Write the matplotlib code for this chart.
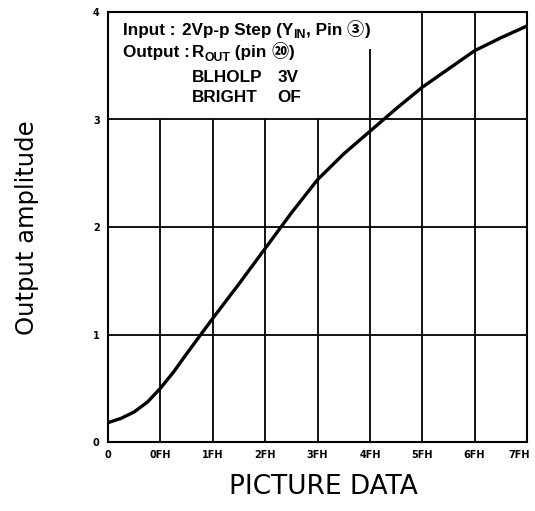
import matplotlib.pyplot as plt
from matplotlib.transforms import ScaledTranslation

plt.rcParams['font.family'] = ['DejaVu Sans', 'Noto Sans CJK JP']

# --- data ---
x_labels = ["0", "0FH", "1FH", "2FH", "3FH", "4FH", "5FH", "6FH", "7FH"]
x_ticks = [0, 1, 2, 3, 4, 5, 6, 7, 8]
y_ticks = [0, 1, 2, 3, 4]

curve_x = [0, 0.25, 0.5, 0.75, 1, 1.25, 1.5, 2, 2.5, 3, 3.5, 4, 4.5, 5,
           5.5, 6, 6.5, 7, 7.5, 8]
curve_y = [0.18, 0.22, 0.28, 0.37, 0.50, 0.65, 0.82, 1.15, 1.47, 1.80,
           2.13, 2.44, 2.68, 2.89, 3.10, 3.30, 3.47, 3.64, 3.76, 3.87]

# grid lines (vertical ones stop under the text block)
grid_x = [1, 2, 3, 4, 5, 6, 7]
grid_x_top = [3, 3, 3, 3, 3.66, 4, 4]
grid_y = [1, 2, 3]

# --- figure ---
fig = plt.figure(figsize=(5.35, 5.11), dpi=100)
ax = fig.add_axes([108 / 535, 69 / 511, 419 / 535, 430 / 511])

ax.set_xlim(0, 8)
ax.set_ylim(0, 4)

ax.vlines(grid_x, 0, grid_x_top, color='black', linewidth=1.3)
ax.hlines(grid_y, 0, 8, color='black', linewidth=1.3)
ax.plot(curve_x, curve_y, color='black', linewidth=2.4,
        solid_capstyle='round', solid_joinstyle='round')

for sp in ax.spines.values():
    sp.set_linewidth(1.5)

ax.set_xticks(x_ticks)
ax.set_xticklabels(x_labels, fontsize=7, fontweight='bold')
ax.set_yticks(y_ticks)
ax.set_yticklabels([str(v) for v in y_ticks], fontsize=7, fontweight='bold')
ax.tick_params(length=0, pad=6)

# last x label sits against the right edge, nudge it in a bit
last = ax.get_xticklabels()[-1]
last.set_transform(last.get_transform() + ScaledTranslation(-6 / 72, 0, fig.dpi_scale_trans))

BOX_FONT = ['Liberation Sans', 'Noto Sans CJK JP']


# --- text block, pieces chained left to right on one baseline ---
def put_line(x, y, pieces, size=12.3):
    prev = None
    for s, rel, dy in pieces:
        if prev is None:
            t = ax.annotate(s, xy=(x, y), xycoords='data', xytext=(0, dy),
                            textcoords='offset points', fontsize=size * rel,
                            family=BOX_FONT, fontweight='bold',
                            ha='left', va='baseline')
        else:
            t = ax.annotate(s, xy=(1, y), xycoords=(prev, 'data'), xytext=(0, dy),
                            textcoords='offset points', fontsize=size * rel,
                            family=BOX_FONT, fontweight='bold',
                            ha='left', va='baseline')
        prev = t


put_line(0.29, 3.79, [("Input :", 1, 0)])
put_line(1.41, 3.79, [("2Vp-p Step (Y", 1, 0), ("IN", 0.72, -2.5),
                      (", Pin ", 1, 0), ("③", 1, 0), (")", 1, 0)])
put_line(0.29, 3.58, [("Output :", 1, 0)])
put_line(1.60, 3.58, [("R", 1, 0), ("OUT", 0.72, -2.5), (" (pin ", 1, 0),
                      ("⑳", 1, 0), (")", 1, 0)])
put_line(1.60, 3.35, [("BLHOLP", 1, 0)])
put_line(3.23, 3.35, [("3V", 1, 0)])
put_line(1.60, 3.16, [("BRIGHT", 1, 0)])
put_line(3.23, 3.16, [("OF", 1, 0)])

fig.text(27 / 535, 1 - 228 / 511, "Output amplitude", rotation=90,
         ha='center', va='center', fontsize=17.5)
fig.text(323 / 535, 1 - 487 / 511, "PICTURE DATA", ha='center', va='center',
         fontsize=19)

fig.savefig("out.png", dpi=100)
